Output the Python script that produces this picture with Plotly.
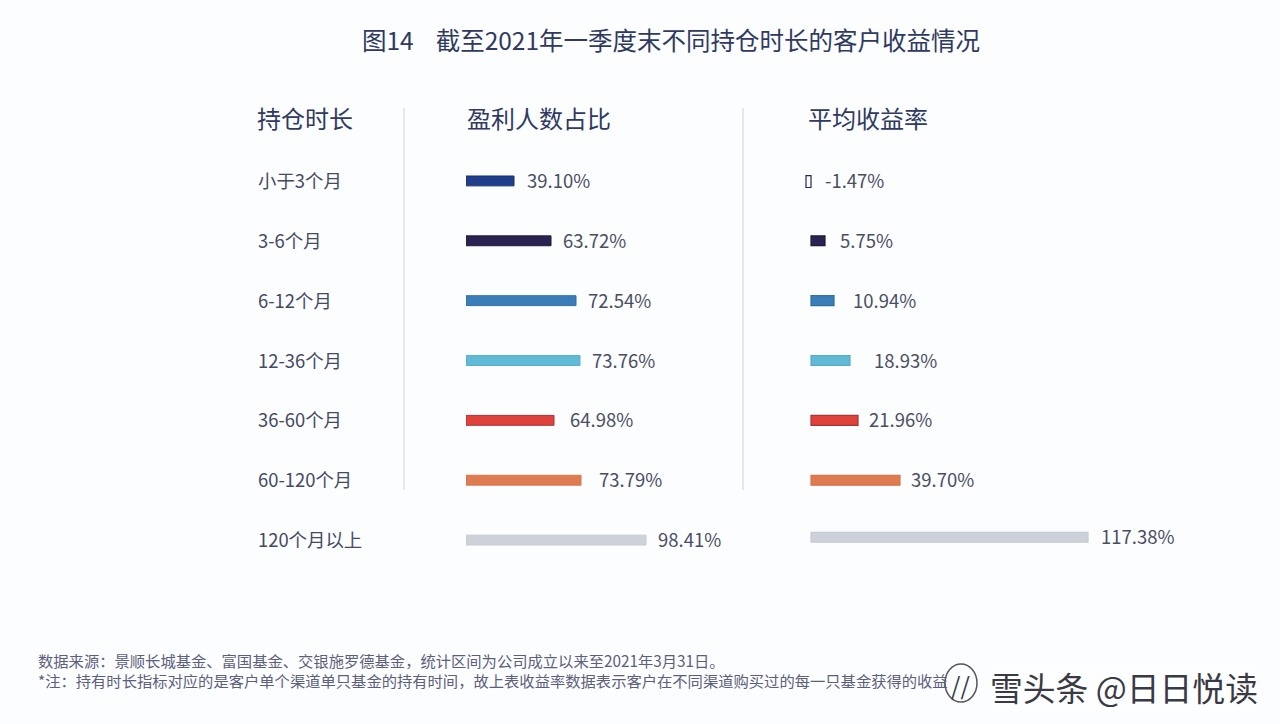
import plotly.graph_objs as go

FONT = "Noto Sans CJK SC"

holding = ["小于3个月", "3-6个月", "6-12个月", "12-36个月", "36-60个月", "60-120个月", "120个月以上"]

# printed percentages
profit_labels = ["39.10%", "63.72%", "72.54%", "73.76%", "64.98%", "73.79%", "98.41%"]
return_labels = ["-1.47%", "5.75%", "10.94%", "18.93%", "21.96%", "39.70%", "117.38%"]

# the source bars are not to scale with the printed numbers, so bar lengths are read separately
profit_bars = [48, 85, 110, 114, 88, 115, 180]
return_bars = [-5, 14, 23, 39, 47, 89, 277]

bar_colors = ["#1F3E8C", "#2A2352", "#3A7DB9", "#60B9D6", "#DE423B", "#DF7B50", "#CDD2DA"]
bar_edges = ["#1B2F6E", "#1E1A3C", "#33709F", "#58AECB", "#A83538", "#D9754A", "#C6CBD3"]

# gap between bar end and its label
profit_gaps = [11, 10, 10, 10, 14, 16, 10]
return_gaps = [12, 13, 17, 22, 9, 9, 11]

W, H = 1280, 724
TEXT = "#4A4E63"
HEAD = "#2F3A5E"


def px_x(v):
    return v / W


def px_y(v):
    return 1 - v / H


fig = go.Figure()

fig.add_trace(go.Bar(
    y=holding, x=profit_bars, orientation="h", width=0.165,
    marker=dict(color=bar_colors, line=dict(color=bar_edges, width=1)),
    xaxis="x", yaxis="y", hoverinfo="skip",
))

# first bar on the right is the hollow one, last bar sits a little higher
right_fill = ["#FFFFFF"] + bar_colors[1:]
right_edge = ["#1E2A55"] + bar_edges[1:]
right_width = [0.2] + [0.165] * 6
right_offset = [-0.09] + [-0.0825] * 5 + [-0.13]
fig.add_trace(go.Bar(
    y=holding, x=return_bars, orientation="h", width=right_width, offset=right_offset,
    marker=dict(color=right_fill, line=dict(color=right_edge, width=1.2)),
    xaxis="x2", yaxis="y2", hoverinfo="skip",
))

annotations = []


def label(text, x, y, size, color=TEXT, **kw):
    annotations.append(dict(
        text=text, x=x, y=y, showarrow=False, xanchor=kw.pop("xanchor", "left"),
        yanchor="middle", font=dict(family=FONT, size=size, color=color),
        xref=kw.pop("xref", "paper"), yref=kw.pop("yref", "paper"), **kw
    ))


label("图14    截至2021年一季度末不同持仓时长的客户收益情况", px_x(671), px_y(40), 24.5, HEAD, xanchor="center")
label("持仓时长", px_x(255), px_y(117), 24, HEAD)
label("盈利人数占比", px_x(465), px_y(117), 24, HEAD)
label("平均收益率", px_x(806), px_y(117), 24, HEAD)

for i, name in enumerate(holding):
    label(name, px_x(256), name, 18.4, "#454A63", yref="y", yshift=1)
    label(profit_labels[i], profit_bars[i], name, 18.5, xref="x", yref="y", xshift=profit_gaps[i], yshift=1)
    label(return_labels[i], max(return_bars[i], 0), name, 18.5, xref="x2", yref="y2",
          xshift=return_gaps[i], yshift=4 if i == 6 else 1)

label("数据来源：景顺长城基金、富国基金、交银施罗德基金，统计区间为公司成立以来至2021年3月31日。",
      px_x(36), px_y(660), 15.3, "#5C5F7C")
label("*注：持有时长指标对应的是客户单个渠道单只基金的持有时间，故上表收益率数据表示客户在不同渠道购买过的每一只基金获得的收益",
      px_x(36), px_y(680), 15.3, "#5C5F7C")
label("雪头条 @日日悦读", px_x(988), px_y(686), 32.8, "#3A3A44", bgcolor="rgba(255,255,255,0.55)")
label("//", px_x(960), px_y(684), 24, "#3A3A44", xanchor="center")

shapes = [
    dict(type="line", xref="paper", yref="paper", x0=px_x(404), x1=px_x(404), y0=px_y(108), y1=px_y(490),
         line=dict(color="#DDDFE4", width=1.5)),
    dict(type="line", xref="paper", yref="paper", x0=px_x(743), x1=px_x(743), y0=px_y(108), y1=px_y(490),
         line=dict(color="#DDDFE4", width=1.5)),
    dict(type="circle", xref="paper", yref="paper", x0=px_x(945), x1=px_x(977), y0=px_y(702), y1=px_y(664),
         line=dict(color="#55555F", width=1.5)),
]

row_domain = [px_y(570), px_y(151)]
hidden = dict(visible=False, fixedrange=True)

fig.update_layout(
    width=W, height=H,
    margin=dict(l=0, r=0, t=0, b=0),
    paper_bgcolor="#FBFDFE",
    plot_bgcolor="rgba(0,0,0,0)",
    showlegend=False,
    barmode="overlay",
    xaxis=dict(domain=[px_x(466), px_x(766)], range=[0, 300], **hidden),
    xaxis2=dict(domain=[px_x(801), px_x(1211)], range=[-10, 400], **hidden),
    yaxis=dict(domain=row_domain, type="category", categoryorder="array", categoryarray=holding,
               range=[6.5, -0.5], anchor="x", **hidden),
    yaxis2=dict(domain=row_domain, type="category", categoryorder="array", categoryarray=holding,
                range=[6.5, -0.5], anchor="x2", **hidden),
    annotations=annotations,
    shapes=shapes,
)

# page has a default 8px body margin, drop it so the figure fills the window
fig.write_html("out.html", post_script="document.body.style.margin='0';",
               config=dict(displayModeBar=False))
